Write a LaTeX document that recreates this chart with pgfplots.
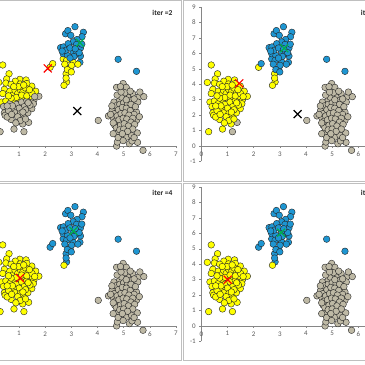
\documentclass[border=0pt]{standalone}
\usepackage{fontspec}
\setmainfont{Carlito}
\usepackage{pgfplots}
\usepackage{pgfplotstable}
\pgfplotsset{compat=1.18}
\definecolor{cy}{RGB}{255,255,0}
\definecolor{cb}{RGB}{30,150,210}
\definecolor{cg}{RGB}{190,185,165}
\definecolor{cgreen}{RGB}{0,176,80}
\definecolor{framegray}{RGB}{191,191,191}
\definecolor{axgray}{RGB}{134,134,134}
\definecolor{tickgray}{RGB}{89,89,89}

\pgfplotstableread{
x y a b c
0.38 5.25 0 0 0
0.23 4.12 0 0 0
0.62 4.68 0 0 0
0.53 4.35 0 0 0
0.50 4.08 0 0 0
0.44 3.67 0 0 0
0.38 3.40 0 0 0
0.33 2.85 0 0 0
0.50 2.92 0 0 0
0.41 2.56 2 0 0
0.44 2.15 2 0 0
0.47 1.99 2 0 0
0.28 0.93 2 0 0
0.81 1.10 2 0 0
1.19 0.93 2 2 0
1.14 1.43 2 0 0
0.70 1.72 2 0 0
1.37 1.53 2 2 0
1.76 3.22 2 0 0
1.64 3.55 0 0 0
1.49 3.88 0 0 0
1.57 2.98 2 0 0
1.49 2.42 2 0 0
1.34 2.15 2 0 0
1.03 4.32 0 0 0
1.27 4.28 0 0 0
0.86 4.20 0 0 0
0.91 3.78 0 0 0
1.17 1.88 2 0 0
0.55 1.88 2 0 0
1.55 2.74 2 0 0
1.04 4.02 0 0 0
1.30 4.05 0 0 0
0.70 4.00 0 0 0
0.65 3.55 0 0 0
0.75 3.30 0 0 0
0.85 3.60 0 0 0
0.95 3.40 0 0 0
1.05 3.65 0 0 0
1.15 3.50 0 0 0
1.25 3.75 0 0 0
1.35 3.45 0 0 0
1.40 3.20 0 0 0
1.20 3.15 0 0 0
1.00 3.10 0 0 0
0.80 2.95 0 0 0
0.65 2.75 2 0 0
0.90 2.70 2 0 0
1.10 2.85 2 0 0
1.30 2.95 2 0 0
1.42 2.65 2 0 0
1.20 2.55 2 0 0
1.00 2.45 2 0 0
0.78 2.40 2 0 0
0.60 2.30 2 0 0
0.85 2.15 2 0 0
1.05 2.10 2 0 0
1.25 2.35 2 0 0
0.95 1.90 2 0 0
1.15 2.20 2 0 0
0.72 2.05 2 0 0
0.90 3.15 0 0 0
1.10 3.30 0 0 0
0.70 3.10 0 0 0
1.30 3.25 0 0 0
1.50 3.40 0 0 0
0.60 3.25 0 0 0
0.98 3.85 0 0 0
1.18 3.95 0 0 0
0.80 3.85 0 0 0
1.40 3.65 0 0 0
1.05 1.65 2 0 0
0.88 1.50 2 0 0
1.25 1.75 2 0 0
0.75 2.60 2 0 0
1.35 2.80 2 0 0
0.55 2.60 2 0 0
1.60 3.20 2 0 0
3.14 7.73 1 1 1
2.78 7.27 1 1 1
2.87 7.48 1 1 1
2.98 7.17 1 1 1
3.46 7.37 1 1 1
3.41 7.08 1 1 1
3.22 6.90 1 1 1
2.59 6.37 1 1 1
2.70 6.42 1 1 1
3.07 6.75 1 1 1
3.20 6.58 1 1 1
3.35 6.35 1 1 1
2.19 5.10 0 0 1
2.29 5.34 0 1 1
2.80 4.68 0 0 1
2.82 4.15 0 0 1
2.95 5.01 0 1 1
2.69 5.64 0 1 1
3.33 5.42 1 1 1
3.35 5.83 1 1 1
2.88 6.63 1 1 1
2.69 5.98 1 1 1
2.85 5.87 1 1 1
3.07 6.10 1 1 1
3.20 5.98 1 1 1
3.30 6.05 1 1 1
2.82 5.55 0 1 1
3.07 5.44 0 1 1
3.25 5.30 0 1 1
3.01 5.23 0 1 1
2.78 6.20 1 1 1
2.95 6.35 1 1 1
3.10 5.80 1 1 1
2.95 5.70 1 1 1
2.75 5.30 0 1 1
3.15 6.30 1 1 1
2.85 4.95 0 1 1
3.00 4.80 0 1 1
2.80 4.40 0 0 1
2.65 6.15 1 1 1
3.40 6.60 1 1 1
4.79 5.62 1 1 1
5.49 4.84 1 1 1
2.72 3.93 0 0 0
4.03 1.66 2 2 2
4.73 3.80 2 2 2
4.98 4.05 2 2 2
5.10 3.80 2 2 2
5.34 3.40 2 2 2
5.58 3.20 2 2 2
5.77 3.20 2 2 2
5.54 2.85 2 2 2
5.52 0.85 2 2 2
5.53 0.24 2 2 2
5.74 -0.28 2 2 2
4.73 0.00 2 2 2
4.76 0.26 2 2 2
5.22 0.15 2 2 2
5.32 0.33 2 2 2
4.42 1.95 2 2 2
4.63 2.85 2 2 2
4.56 2.31 2 2 2
4.85 2.96 2 2 2
4.92 3.17 2 2 2
5.15 3.17 2 2 2
5.30 2.96 2 2 2
5.36 2.53 2 2 2
5.49 2.20 2 2 2
5.49 1.66 2 2 2
4.66 1.34 2 2 2
4.73 0.91 2 2 2
4.92 0.58 2 2 2
5.11 0.58 2 2 2
5.30 0.69 2 2 2
4.79 0.55 2 2 2
4.70 2.60 2 2 2
4.85 2.70 2 2 2
5.00 2.80 2 2 2
5.15 2.75 2 2 2
5.28 2.70 2 2 2
4.65 2.10 2 2 2
4.80 2.35 2 2 2
4.95 2.50 2 2 2
5.10 2.45 2 2 2
5.25 2.30 2 2 2
5.40 2.05 2 2 2
4.60 1.85 2 2 2
4.75 1.95 2 2 2
4.90 2.10 2 2 2
5.05 2.15 2 2 2
5.20 2.00 2 2 2
5.35 1.80 2 2 2
4.68 1.60 2 2 2
4.82 1.70 2 2 2
4.98 1.80 2 2 2
5.12 1.75 2 2 2
5.28 1.55 2 2 2
5.42 1.40 2 2 2
4.72 1.20 2 2 2
4.88 1.35 2 2 2
5.02 1.45 2 2 2
5.18 1.30 2 2 2
5.35 1.10 2 2 2
4.85 1.05 2 2 2
5.00 1.10 2 2 2
5.15 0.95 2 2 2
4.95 0.80 2 2 2
5.10 3.00 2 2 2
4.75 3.30 2 2 2
4.60 1.50 2 2 2
5.45 2.55 2 2 2
4.55 2.60 2 2 2
5.05 3.45 2 2 2
4.90 3.50 2 2 2
5.60 1.90 2 2 2
4.50 2.05 2 2 2
5.40 3.05 2 2 2
5.62 3.50 2 2 2
5.25 3.55 2 2 2
4.88 3.85 2 2 2
4.98 0.35 2 2 2
5.40 0.55 2 2 2
4.60 0.80 2 2 2
}\pts

\pgfplotsset{
 kmeans/.style={
  scale only axis, width=183.2pt, height=154.4pt,
  xmin=0, xmax=7, ymin=-1, ymax=9,
  axis x line*=middle, axis y line*=left,
  xtick={0,...,7}, ytick={-1,...,9},
  hide obscured x ticks=false, hide obscured y ticks=false,
  tick align=outside, major tick length=2pt,
  axis line style={axgray, line width=0.6pt},
  tick style={axgray, line width=0.5pt},
  ticklabel style={font=\fontsize{7}{8}\selectfont, text=tickgray},
  /pgf/number format/assume math mode=true,
  anchor=south west, clip=false,
  scatter/classes={
    0={mark=*, draw=black!85, fill=cy},
    1={mark=*, draw=black!85, fill=cb},
    2={mark=*, draw=black!85, fill=cg}},
 },
 cent/.style={only marks, mark=x, mark size=5.6pt, mark options={line width=1.2pt}},
}

\newcommand{\kpanel}[6]{%
\begin{axis}[kmeans, at={#1}]
\addplot[cent, black] coordinates {#4};
\addplot[scatter, only marks, mark size=3.3pt, mark options={line width=0.4pt}, point meta=explicit symbolic] table[x=x, y=y, meta=#2] {\pts};
\addplot[cent, red] coordinates {#3};
\addplot[cent, cgreen] coordinates {#5};
\node[anchor=east, font=\bfseries\fontsize{7.5}{9}\selectfont, text=black!85] at (axis cs:7,8.6) {#6};
\end{axis}}

\begin{document}
\begin{tikzpicture}
\begin{scope}
\clip (0pt,0pt) rectangle (365pt,365pt);
\fill[white] (0pt,0pt) rectangle (365pt,365pt);
\draw[framegray, line width=1pt] (-5pt,364pt) -- (181pt,364pt) -- (181pt,183.5pt) -- (-5pt,183.5pt);
\draw[framegray, line width=1pt] (370pt,364pt) -- (183pt,364pt) -- (183pt,183.5pt) -- (370pt,183.5pt);
\draw[framegray, line width=1pt] (-5pt,181.5pt) -- (181pt,181.5pt) -- (181pt,4pt) -- (-5pt,4pt);
\draw[framegray, line width=1pt] (370pt,181.5pt) -- (183pt,181.5pt) -- (183pt,4pt) -- (370pt,4pt);
\kpanel{(-7.2pt,203.5pt)}{a}{(2.10,5.03)}{(3.23,2.27)}{(3.33,6.69)}{iter =2}
\kpanel{(201.3pt,203.5pt)}{b}{(1.45,4.06)}{(3.68,2.07)}{(3.17,6.33)}{iter =3}
\kpanel{(-7.2pt,23.6pt)}{c}{(1.04,3.10)}{(5.00,2.15)}{(3.08,6.15)}{iter =4}
\kpanel{(201.3pt,23.6pt)}{c}{(1.01,3.00)}{(5.02,2.10)}{(3.05,6.04)}{iter =5}
\end{scope}
\pgfresetboundingbox
\useasboundingbox (0pt,0pt) rectangle (365pt,365pt);
\end{tikzpicture}
\end{document}
